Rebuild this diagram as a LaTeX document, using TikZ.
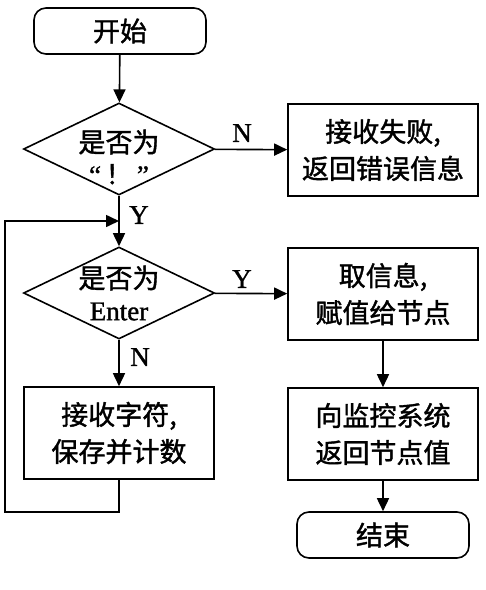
\documentclass[tikz,border=0pt]{standalone}
\usepackage{fontspec}
\setmainfont[FakeBold=1.2]{Liberation Serif}
\newfontfamily\cjk[FakeBold=1.4]{Noto Sans CJK SC}
\usetikzlibrary{arrows.meta,shapes.geometric}

\begin{document}
\begin{tikzpicture}[x=1pt,y=-1pt,
		box/.style={draw, line width = 1.6pt, minimum width=190pt, minimum height=92pt, align=center, inner sep=0pt, font=\cjk\fontsize{27}{37}\selectfont},
		term/.style={draw, line width = 1.6pt, rounded corners=12pt, minimum height=46pt, inner sep=0pt, font=\cjk\fontsize{27}{37}\selectfont},
		decide/.style={draw, diamond, line width = 1.6pt, minimum width=191pt, minimum height=92pt, inner sep=0pt},
		txt/.style={align=center, inner sep=0pt, font=\cjk\fontsize{27}{32}\selectfont},
		lab/.style={inner sep=0pt, font=\fontsize{27}{30}\selectfont},
		arr/.style={line width = 1.6pt, -{Triangle[length=13pt,width=12pt]}}]
		
		\useasboundingbox (0,0) rectangle (486,590);
		
		\node[term, minimum width=172pt] (start) at (120,31) {开始};
		\node[decide] (isbang) at (119,149) {};
		\node[txt] at (119,157) {是否为\\{\rmfamily “}\,！\,{\rmfamily ”}};
		\node[box] (fail) at (383,150) {接收失败,\\返回错误信息};
		
		\node[decide] (isenter) at (119,293) {};
		\node[txt] at (119,293) {是否为\\{\rmfamily Enter}};
		\node[box] (getinfo) at (383,294) {取信息,\\赋值给节点};
		\node[box] (report) at (383,434) {向监控系统\\返回节点值};
		\node[term, minimum width=172pt] (stop) at (383,535) {结束};
		
		\node[box] (save) at (119,433) {接收字符,\\保存并计数};
		
		\coordinate (merge) at (119,221);
		\coordinate (corner) at (5,221);
		
		\draw[arr] (start) -- (isbang);
		\draw[arr] (isbang) -- (fail);
		\draw[arr] (isbang) -- (isenter);
		\draw[arr] (isenter) -- (getinfo);
		\draw[arr] (isenter) -- (save);
		\draw[arr] (getinfo) -- (report);
		\draw[arr] (report) -- (stop);
		
		% loop back
		\draw[arr] (save.south) -- ++(0,32) -| (corner) -- (merge);
		
		\node[lab] at (242,133) {N};
		\node[lab] at (139,215) {Y};
		\node[lab] at (242,279) {Y};
		\node[lab] at (140,357) {N};
		
	\end{tikzpicture}
\end{document}
